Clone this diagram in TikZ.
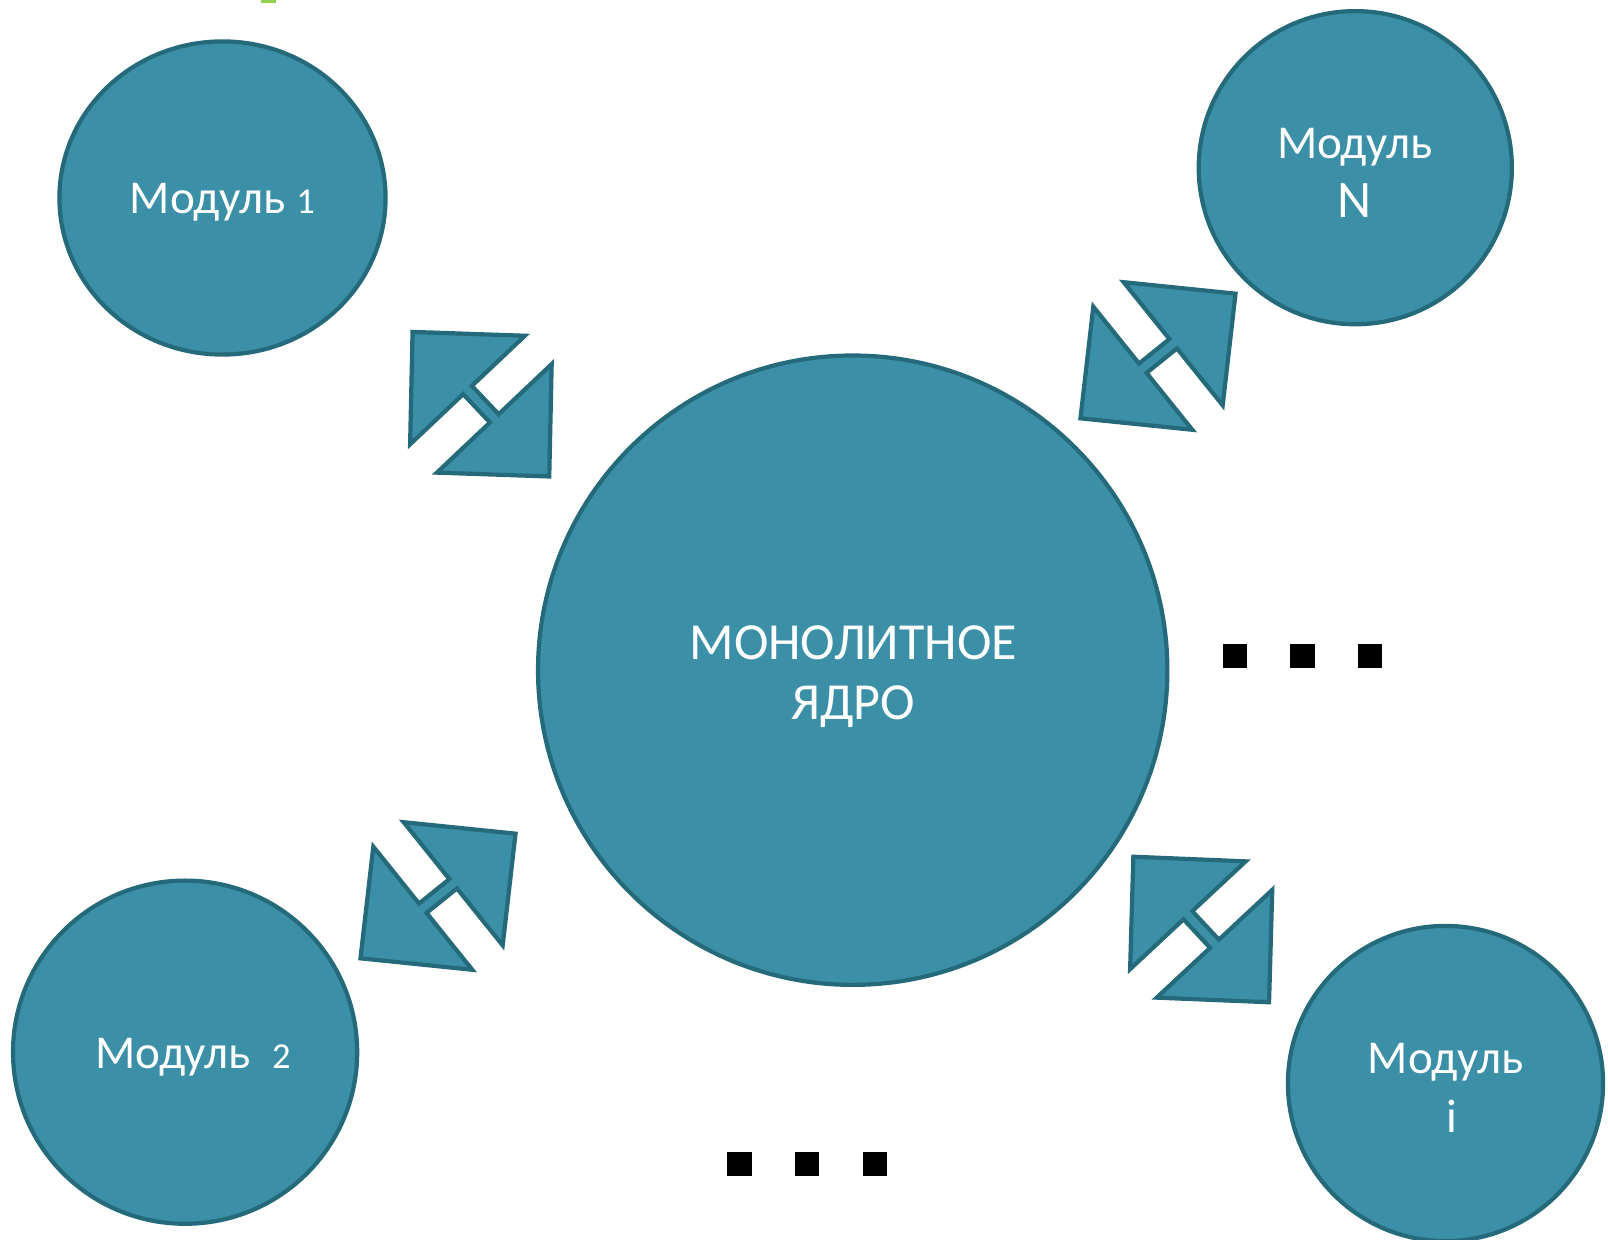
\documentclass[tikz,border=0pt]{standalone}
\usepackage{fontspec}
\setmainfont{Carlito}
\usetikzlibrary{shapes.geometric, positioning}
\definecolor{kernelfill}{RGB}{59,143,166}
\definecolor{kerneldraw}{RGB}{37,106,122}
\definecolor{slidegreen}{RGB}{146,208,80}
% small figures, as the slide font sets them
\newcommand{\lowfig}[1]{{\fontsize{10.4}{12}\selectfont #1}}
\tikzset{
	kernel diagram/.is family,
	kernel diagram/.cd,
	module/.style = {
		ellipse,
		draw = kerneldraw,
		fill = kernelfill,
		line width = 0.042cm,
		inner sep = 0pt,
	},
	caption/.style = {
		text = white,
		align = center,
		inner sep = 0pt,
		font = \fontsize{13.4}{16.6}\selectfont,
	},
	big caption/.style = {
		kernel diagram/caption,
		font = \fontsize{14.8}{17.1}\selectfont,
	},
	dot/.style = {
		fill = black,
		draw = none,
	},
}
\tikzset{
	two way/.pic = {
		% two arrow heads on one short shaft
		\draw[draw = kerneldraw, fill = kernelfill, line width = 0.042cm, line join = miter]
			(-99.5, 0) -- (-19.5, 79) -- (-19.5, 6) -- (19.5, 6) -- (19.5, 79)
			-- (99.5, 0) -- (19.5, -79) -- (19.5, -6) -- (-19.5, -6) -- (-19.5, -79) -- cycle;
	},
}

\begin{document}
\begin{tikzpicture}[x = 0.01cm, y = -0.01cm]
	\useasboundingbox (0, 0) rectangle (1608, 1240);
	\fill[slidegreen] (261, 0) rectangle (276, 2.7);
	% kernel and modules
	\node[kernel diagram/module, minimum width = 6.29cm, minimum height = 6.29cm] (core) at (852.7, 670.2) {};
	\node[kernel diagram/module, minimum width = 3.26cm, minimum height = 3.13cm] (m1) at (222.5, 198) {};
	\node[kernel diagram/module, minimum width = 3.13cm, minimum height = 3.13cm] (mN) at (1355.3, 167.7) {};
	\node[kernel diagram/module, minimum width = 3.44cm, minimum height = 3.43cm] (m2) at (185.1, 1052.2) {};
	\node[kernel diagram/module, minimum width = 3.15cm, minimum height = 3.15cm] (mi) at (1445.5, 1083.5) {};
	% captions
	\node[kernel diagram/big caption] (core text) at (853.3, 677) {МОНОЛИТНОЕ\\ЯДРО};
	\node[kernel diagram/caption] (m1 text) at (222.4, 202) {Модуль \lowfig{1}};
	\node[kernel diagram/caption] (mN text) at (1355, 173) {Модуль\\{\fontsize{15}{17}\selectfont N}};
	\node[kernel diagram/caption] (m2 text) at (193, 1057) {Модуль\ \ \lowfig{2}};
	\node[kernel diagram/caption] (mi text) at (1445.8, 1088) {Модуль\\\hspace*{0.12cm}i};
	% arrows between kernel and modules
	\pic[rotate = -46.6] (a1) at (480.9, 404.2) {two way};
	\pic[rotate = 38.8] (aN) at (1158, 356) {two way};
	\pic[rotate = 38.8] (a2) at (438, 896) {two way};
	\pic[rotate = -47] (ai) at (1201.2, 929.5) {two way};
	% ellipses
	\foreach \x in {1222.7, 1290.4, 1358.1}
		\fill[kernel diagram/dot] (\x, 644) rectangle ++(24.3, 24.3);
	\foreach \x in {727, 794.8, 862.5}
		\fill[kernel diagram/dot] (\x, 1151.7) rectangle ++(24.6, 24.6);
\end{tikzpicture}
\end{document}
